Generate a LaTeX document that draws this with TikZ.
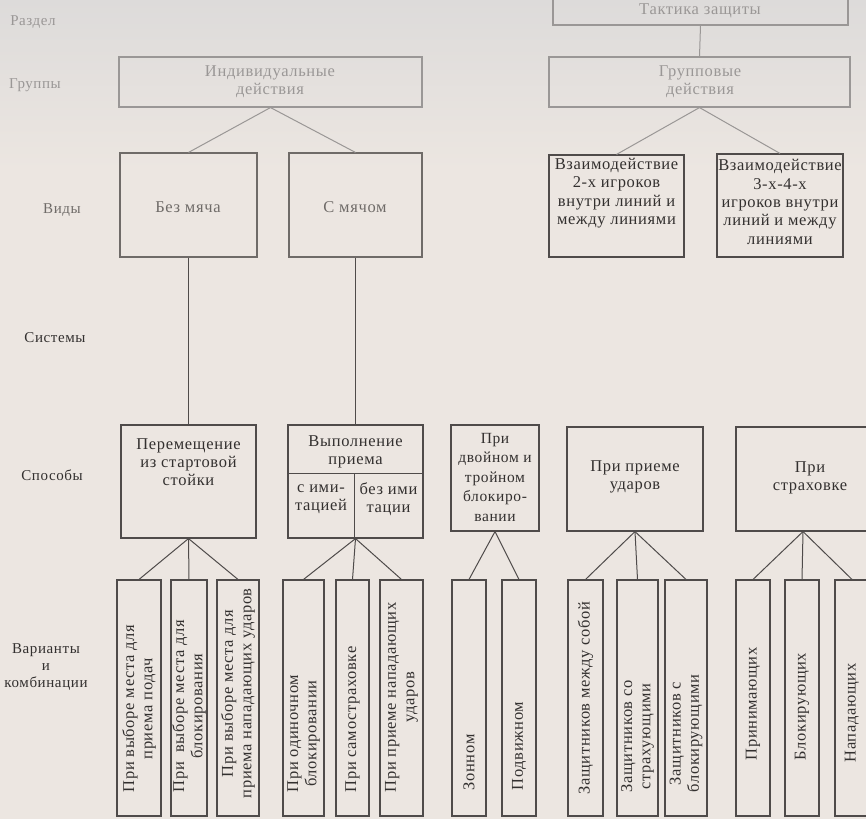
\documentclass[tikz,border=0pt]{standalone}
\usepackage{fontspec}
\setmainfont{Liberation Serif}[LetterSpace=4]
\usetikzlibrary{calc}
\definecolor{paper}{HTML}{ECE6E1}
\definecolor{papertop}{HTML}{DDDBDA}
\definecolor{ink}{HTML}{33302F}
\definecolor{lineink}{HTML}{4F4B4A}
\definecolor{faded}{HTML}{9A9796}
\definecolor{mid}{HTML}{6F6B68}
\begin{document}
\begin{tikzpicture}[x=1pt,y=-1pt,
  box/.style={draw=lineink, line width=1.1pt, inner sep=0pt, fill=none},
  fbox/.style={box, draw=faded},
  mbox/.style={box, draw=mid},
  txt/.style={align=center, inner sep=0pt, font=\fontsize{16.5}{18.3}\selectfont, text=ink},
  ftxt/.style={txt, text=faded},
  mtxt/.style={txt, text=mid},
  lbl/.style={txt, font=\fontsize{15}{17}\selectfont},
  vtxt/.style={txt, rotate=90, anchor=west},
  conn/.style={draw=lineink, line width=1pt},
  fconn/.style={conn, draw=faded},
  mconn/.style={conn, draw=mid}]
\useasboundingbox (0,0) rectangle (866,819);
\clip (0,0) rectangle (866,819);
\fill[paper] (0,0) rectangle (866,819);
\shade[top color=papertop, bottom color=paper] (0,0) rectangle (866,170);

% row labels
\node[lbl, text=faded] (lRazdel) at (33,22) {Раздел};
\node[lbl, text=faded] (lGroups) at (35,85) {Группы};
\node[lbl, text=mid] (lKinds) at (62,210) {Виды};
\node[lbl] (lSystems) at (55,338) {Системы};
\node[lbl] (lWays) at (52,475) {Способы};
\node[lbl] (lVariants) at (46,667) {Варианты\\и\\комбинации};

% top
\node[fbox, minimum width=295, minimum height=31] (T) at (700.5,9.5) {};
\node[ftxt] (Tt) at (700,11) {Тактика защиты};

% groups
\node[fbox, minimum width=303, minimum height=50] (G1) at (270.5,82) {};
\node[ftxt] (G1t) at (270,82) {Индивидуальные\\действия};
\node[fbox, minimum width=301, minimum height=50] (G2) at (699.5,82) {};
\node[ftxt] (G2t) at (700,82) {Групповые\\действия};

% kinds
\node[mbox, minimum width=137, minimum height=104] (K1) at (188.5,205) {};
\node[mtxt] (K1t) at (188,207) {Без мяча};
\node[mbox, minimum width=133, minimum height=104] (K2) at (355.5,205) {};
\node[mtxt] (K2t) at (355,207) {С мячом};
\node[box, minimum width=135, minimum height=102] (K3) at (616.5,206) {};
\node[txt] (K3t) at (616.5,193) {Взаимодействие\\2-х  игроков\\внутри линий и\\между линиями};
\node[box, minimum width=126, minimum height=103] (K4) at (780,205.5) {};
\node[txt] (K4t) at (780,202) {Взаимодействие\\3-х-4-х\\игроков внутри\\линий и между\\линиями};

% ways
\node[box, minimum width=135, minimum height=113] (S1) at (188.5,481.5) {};
\node[txt] (S1t) at (188.5,462) {Перемещение\\из стартовой\\стойки};
\node[box, minimum width=135, minimum height=113] (S2) at (355.5,481.5) {};
\coordinate (S2l) at (288,473);
\coordinate (S2r) at (423,473);
\coordinate (S2m) at (354,473);
\draw[conn] (S2l) -- (S2r);
\draw[conn] (S2m) -- (S2m |- S2.south);
\node[txt] (S2t) at (355.5,452) {Выполнение\\приема};
\node[txt] (S2a) at (321,499) {с ими-\\тацией};
\node[txt] (S2b) at (388.5,499) {без ими\\тации};
\node[box, minimum width=88, minimum height=106] (S3) at (495,478) {};
\node[txt, font=\fontsize{15.5}{19.5}\selectfont] (S3t) at (495,477) {При\\двойном и\\тройном\\блокиро-\\вании};
\node[box, minimum width=136, minimum height=104] (S4) at (635,479) {};
\node[txt] (S4t) at (635,477) {При приеме\\ударов};
\node[box, minimum width=134, minimum height=104] (S5) at (803,479) {};
\node[txt] (S5t) at (810,478) {При\\страховке};

% variants
\foreach \n/\xa/\xb in {V1/117/161, V2/171/207, V3/217/259, V4/283/324, V5/336/369, V6/380/423,
  V7/452/486, V8/502/536, V9/568/603, V10/617/658, V11/665/707, V12/736/770, V13/785/819, V14/835/869}
  \node[box, minimum width={\xb-\xa}, minimum height=236] (\n) at ({(\xa+\xb)/2},698) {};

\node[vtxt] (V1t) at ($(V1.south)+(0,-24)$) {При выборе места для\\приема подач};
\node[vtxt] (V2t) at ($(V2.south)+(0,-24)$) {При\ \ выборе места для\\блокирования};
\node[vtxt] (V3t) at ($(V3.south)+(0,-18)$) {При выборе места для\\приема нападающих ударов};
\node[vtxt] (V4t) at ($(V4.south)+(0,-24)$) {При одиночном\\блокировании};
\node[vtxt] (V5t) at ($(V5.south)+(0,-24)$) {При самостраховке};
\node[vtxt] (V6t) at ($(V6.south)+(0,-24)$) {При приеме нападающих\\ударов};
\node[vtxt] (V7t) at ($(V7.south)+(0,-26)$) {Зонном};
\node[vtxt] (V8t) at ($(V8.south)+(0,-26)$) {Подвижном};
\node[vtxt] (V9t) at ($(V9.south)+(0,-22)$) {Защитников между собой};
\node[vtxt] (V10t) at ($(V10.south)+(0,-24)$) {Защитников со\\страхующими};
\node[vtxt] (V11t) at ($(V11.south)+(0,-24)$) {Защитников с\\блокирующими};
\node[vtxt] (V12t) at ($(V12.south)+(0,-56)$) {Принимающих};
\node[vtxt] (V13t) at ($(V13.south)+(0,-56)$) {Блокирующих};
\node[vtxt] (V14t) at ($(V14.south)+(0,-54)$) {Нападающих};

% connectors
\draw[fconn] (T.south) -- (G2.north);
\draw[fconn] (G1.south) -- (K1.north);
\draw[fconn] (G1.south) -- (K2.north);
\draw[fconn] (G2.south) -- (K3.north);
\draw[fconn] (G2.south) -- (K4.north);
\draw[conn] (K1.south) -- (S1.north);
\draw[conn] (K2.south) -- (S2.north);
\foreach \p/\c in {S1/V1, S1/V2, S1/V3, S2/V4, S2/V5, S2/V6, S3/V7, S3/V8,
  S4/V9, S4/V10, S4/V11, S5/V12, S5/V13, S5/V14}
  \draw[conn] (\p.south) -- (\c.north);
\end{tikzpicture}
\end{document}
